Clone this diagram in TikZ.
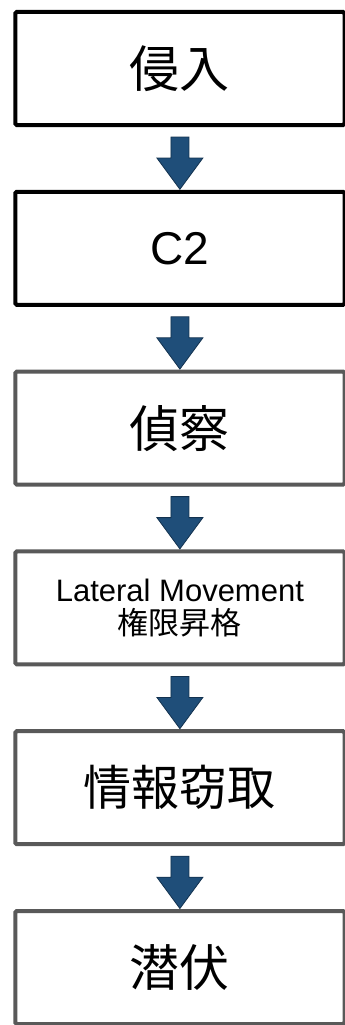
\documentclass[tikz,border=0pt]{standalone}
\usepackage{fontspec}
\setmainfont{Liberation Sans}
\newfontfamily\cjk{Noto Sans CJK JP}
\usetikzlibrary{calc}
\definecolor{arrowblue}{HTML}{1F4E79}
\definecolor{arrowdark}{HTML}{13324F}
\definecolor{boxgray}{HTML}{595959}
\tikzset{
  stagebox/.style={draw, line width=4pt, rounded corners=1.5pt, fill=white,
    minimum width=329.25pt, minimum height=113pt, outer sep=0pt, inner sep=0pt,
    align=center, text=black},
  darkbox/.style={stagebox, draw=black},
  graybox/.style={stagebox, draw=boxgray},
  blockarrow/.style={fill=arrowblue, draw=arrowdark, line width=0.8pt, line join=miter},
  bigcjk/.style={font=\cjk\fontsize{50pt}{56pt}\selectfont},
  biglatin/.style={font=\fontsize{46pt}{52pt}\selectfont},
  mixtext/.style={font=\fontsize{31pt}{34pt}\selectfont}
}
\newcommand\stagearrow[2]{%
  \draw[blockarrow]
    ($(#1.south)+(-9,-12)$) -- ($(#1.south)+(9,-12)$) --
    ($(#1.south)+(9,-33)$) -- ($(#1.south)+(23,-33)$) --
    ($(#2.north)+(0,2.5)$) --
    ($(#1.south)+(-23,-33)$) -- ($(#1.south)+(-9,-33)$) -- cycle;}
\begin{document}
\begin{tikzpicture}[x=1pt,y=1pt]
\useasboundingbox (0,0) rectangle (345,-1025);
\clip (0,0) rectangle (345,-1025);
\node[darkbox, bigcjk] (b1) at (179.9,-68.5) {侵入};
\node[darkbox, biglatin] (b2) at (179.9,-248.3) {C2};
\node[graybox, bigcjk] (b3) at (179.9,-428.1) {偵察};
\node[graybox, mixtext] (b4) at (179.9,-607.9) {Lateral Movement\\[-1pt]{\cjk 権限昇格}};
\node[graybox, font=\cjk\fontsize{48pt}{54pt}\selectfont] (b5) at (179.9,-787.7) {情報窃取};
\node[graybox, bigcjk] (b6) at (179.9,-967.5) {潜伏};
\stagearrow{b1}{b2}
\stagearrow{b2}{b3}
\stagearrow{b3}{b4}
\stagearrow{b4}{b5}
\stagearrow{b5}{b6}
\end{tikzpicture}
\end{document}
